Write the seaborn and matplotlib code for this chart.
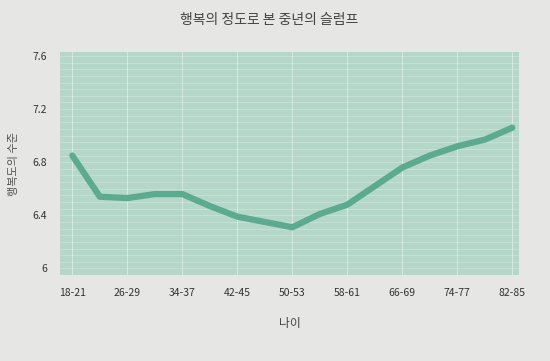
import numpy as np
import pandas as pd
import seaborn as sns
import matplotlib.pyplot as plt
from matplotlib.ticker import MultipleLocator

# age groups (4-year bins) and happiness level
ages = ['18-21', '22-25', '26-29', '30-33', '34-37', '38-41', '42-45', '46-49', '50-53',
        '54-57', '58-61', '62-65', '66-69', '70-73', '74-77', '78-81', '82-85']
happiness = [6.85, 6.54, 6.53, 6.56, 6.56, 6.47, 6.39, 6.35, 6.31,
             6.41, 6.48, 6.62, 6.76, 6.85, 6.92, 6.97, 7.06]
y_ticks = [6, 6.4, 6.8, 7.2, 7.6]
y_tick_labels = ['6', '6.4', '6.8', '7.2', '7.6']

sns.set_theme(style='white')
plt.rcParams['font.family'] = ['Noto Sans CJK KR', 'DejaVu Sans']

df = pd.DataFrame({'idx': np.arange(len(ages)), 'age': ages, 'happy': happiness})

fig = plt.figure(figsize=(5.5, 3.61), dpi=100, facecolor='#e6e7e4')
ax = fig.add_axes([0.109, 0.238, 0.835, 0.618])
ax.set_facecolor('#b5d7ca')

sns.lineplot(data=df, x='idx', y='happy', ax=ax, color='#5caa90', linewidth=4.5,
             solid_capstyle='round', solid_joinstyle='round')

ax.set_xlim(-0.45, 16.25)
ax.set_ylim(5.95, 7.63)
ax.set_xticks(df['idx'][::2])
ax.set_xticklabels(ages[::2], fontsize=7.5, color='#333333')
ax.set_yticks(y_ticks)
ax.set_yticklabels(y_tick_labels, fontsize=7.5, color='#333333')
ax.yaxis.set_minor_locator(MultipleLocator(0.05))
ax.grid(True, which='major', axis='x', color='white', linewidth=0.6, alpha=0.5)
ax.grid(True, which='both', axis='y', color='white', linewidth=0.5, alpha=0.3)
ax.tick_params(axis='both', length=0, pad=9)
for s in ax.spines.values():
    s.set_visible(False)

ax.set_xlabel('나이', fontsize=8.5, color='#444444', labelpad=14)
ax.set_ylabel('행복도의 수준', fontsize=8, color='#555555', labelpad=10)
fig.text(0.49, 0.945, '행복의 정도로 본 중년의 슬럼프', ha='center', va='center',
         fontsize=10, color='#444444')

fig.savefig('out.png', dpi=100, facecolor=fig.get_facecolor())
